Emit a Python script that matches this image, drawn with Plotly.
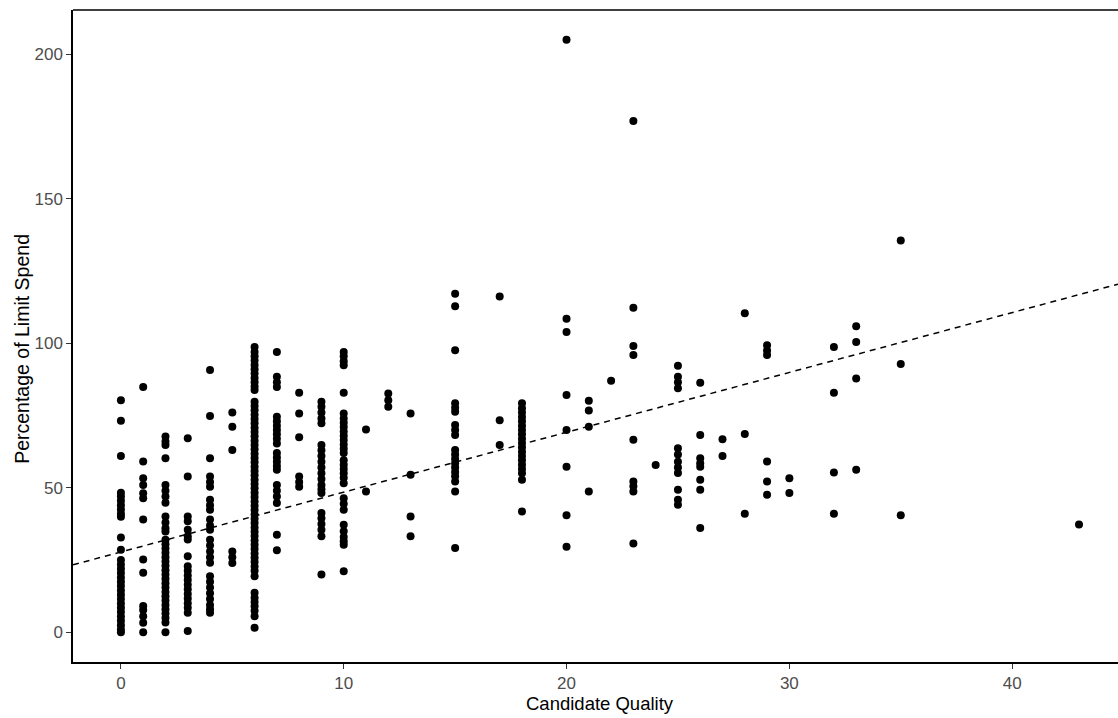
import plotly.graph_objects as go

# Percentage of limit spend, grouped by candidate quality score
spend_q0 = [80.3, 73.2, 61.0, 48.3, 47.0, 45.5, 44.0, 42.5, 41.0, 40.0, 32.8, 28.6,
            25.0, 23.5, 22.0, 20.5, 19.0, 17.5, 16.0, 14.5, 13.0, 11.5, 10.0, 8.5,
            7.0, 5.5, 4.0, 2.5, 1.0, 0.0]
spend_q1 = [84.9, 59.1, 53.3, 51.0, 48.1, 46.4, 39.0, 25.2, 20.6, 9.1, 7.7, 5.6, 3.3, 0.0]
spend_q2 = [67.7, 66.0, 64.8, 60.2, 51.0, 49.0, 47.0, 44.8, 40.1, 38.0, 36.0, 34.9,
            32.0, 30.5, 29.0, 27.5, 26.0, 24.5, 23.0, 21.5, 20.0, 18.5, 17.0, 15.5,
            14.0, 12.5, 11.0, 9.5, 8.0, 6.5, 5.0, 3.4, 0.0]
spend_q3 = [67.1, 53.9, 40.1, 38.4, 35.5, 33.2, 32.1, 26.3, 22.9, 21.3, 19.7, 18.1,
            16.5, 14.9, 13.3, 11.7, 10.1, 8.5, 6.8, 0.5]
spend_q4 = [90.7, 74.8, 60.2, 53.9, 52.0, 50.4, 45.9, 44.0, 42.4, 39.0, 37.0, 35.5,
            32.0, 30.0, 28.0, 26.0, 24.1, 19.4, 17.5, 15.5, 13.5, 11.5, 9.5, 8.0, 6.8]
spend_q5 = [76.0, 71.1, 63.1, 28.0, 26.0, 24.0]
spend_q6 = [98.7, 97.0, 95.5, 94.0, 92.5, 91.0, 89.5, 88.0, 86.5, 85.0, 83.8, 79.8,
            78.3, 76.8, 75.3, 73.8, 72.3, 70.8, 69.3, 67.8, 66.3, 64.8, 63.3, 61.8,
            60.3, 58.8, 57.3, 55.8, 54.3, 52.8, 51.3, 49.8, 48.3, 46.8, 45.3, 43.8,
            42.3, 40.8, 39.3, 37.8, 36.3, 34.8, 33.3, 31.8, 30.3, 28.8, 27.3, 25.8,
            24.3, 22.8, 21.3, 19.4, 13.7, 12.0, 10.5, 9.0, 7.5, 5.6, 1.6]
spend_q7 = [97.0, 88.4, 86.5, 84.9, 74.6, 73.0, 71.5, 70.0, 68.5, 67.0, 65.3, 62.0,
            60.5, 59.0, 57.5, 56.2, 51.0, 49.0, 47.0, 44.7, 33.8, 28.4]
spend_q8 = [82.9, 75.7, 67.5, 53.9, 52.0, 50.4]
spend_q9 = [79.8, 78.0, 76.0, 74.0, 72.3, 64.8, 63.0, 61.0, 59.0, 57.0, 55.0, 53.0,
            51.0, 49.5, 48.2, 41.3, 39.5, 37.5, 35.5, 33.2, 20.0]
spend_q10 = [97.0, 95.5, 93.8, 92.4, 82.9, 75.7, 74.0, 72.5, 71.0, 69.5, 68.0, 66.5,
             65.0, 63.5, 62.0, 59.5, 58.0, 56.5, 55.0, 53.5, 51.6, 46.4, 44.5, 42.4,
             37.2, 35.0, 33.0, 31.5, 30.3, 21.1]
spend_q11 = [70.2, 48.7]
spend_q12 = [82.6, 80.3, 78.0]
spend_q13 = [75.7, 54.5, 40.1, 33.2]
spend_q15 = [117.1, 112.8, 97.6, 79.2, 77.7, 76.3, 71.7, 70.0, 68.3, 63.1, 61.5, 60.0,
             58.5, 57.0, 55.5, 54.0, 52.2, 48.7, 29.2]
spend_q17 = [116.2, 73.4, 64.8]
spend_q18 = [79.2, 77.5, 76.0, 74.5, 73.0, 71.5, 70.0, 68.5, 67.0, 65.5, 64.0, 62.5,
             61.0, 59.5, 58.0, 56.5, 55.0, 52.8, 41.8]
spend_q20 = [205.0, 108.5, 103.9, 82.1, 70.0, 57.3, 40.5, 29.6]
spend_q21 = [80.1, 76.7, 71.1, 48.7]
spend_q22 = [87.0]
spend_q23 = [176.9, 112.3, 99.0, 95.9, 66.6, 52.2, 50.5, 48.7, 30.7]
spend_q24 = [57.9]
spend_q25 = [92.2, 88.4, 86.5, 84.4, 63.7, 61.5, 59.0, 57.0, 55.1, 49.3, 45.9, 44.1]
spend_q26 = [86.3, 68.3, 60.2, 58.5, 57.3, 52.8, 49.3, 36.1]
spend_q27 = [66.8, 61.0]
spend_q28 = [110.4, 68.6, 41.0]
spend_q29 = [99.3, 97.5, 95.9, 59.1, 52.2, 47.6]
spend_q30 = [53.3, 48.2]
spend_q32 = [98.7, 82.9, 55.3, 41.0]
spend_q33 = [105.9, 100.4, 87.8, 56.2]
spend_q35 = [135.5, 92.8, 40.5]
spend_q43 = [37.3]

groups = [
    (0, spend_q0), (1, spend_q1), (2, spend_q2), (3, spend_q3), (4, spend_q4),
    (5, spend_q5), (6, spend_q6), (7, spend_q7), (8, spend_q8), (9, spend_q9),
    (10, spend_q10), (11, spend_q11), (12, spend_q12), (13, spend_q13),
    (15, spend_q15), (17, spend_q17), (18, spend_q18), (20, spend_q20),
    (21, spend_q21), (22, spend_q22), (23, spend_q23), (24, spend_q24),
    (25, spend_q25), (26, spend_q26), (27, spend_q27), (28, spend_q28),
    (29, spend_q29), (30, spend_q30), (32, spend_q32), (33, spend_q33),
    (35, spend_q35), (43, spend_q43),
]

# Linear trend (intercept, slope)
fit_intercept = 27.8
fit_slope = 2.07

x_range = [-2.15, 44.75]
y_range = [-10.25, 215.25]

quality = []
spend = []
for q, vals in groups:
    quality.extend([q] * len(vals))
    spend.extend(vals)

fig = go.Figure()

fig.add_trace(go.Scatter(
    x=quality, y=spend, mode="markers",
    marker=dict(color="black", size=8, line=dict(width=0)),
    hoverinfo="x+y", showlegend=False,
))

trend_x = [x_range[0], x_range[1]]
trend_y = [fit_intercept + fit_slope * v for v in trend_x]
fig.add_trace(go.Scatter(
    x=trend_x, y=trend_y, mode="lines",
    line=dict(color="black", width=1.5, dash="6px,5px"),
    hoverinfo="skip", showlegend=False,
))

tick_font = dict(family="Liberation Sans, Arial, sans-serif", size=17, color="#4D4D4D")
title_font = dict(family="Liberation Sans, Arial, sans-serif", size=18.5, color="black")

fig.update_layout(
    width=1118, height=718,
    margin=dict(l=73, r=0, t=10, b=56),
    paper_bgcolor="white", plot_bgcolor="white",
    xaxis=dict(
        range=x_range, tickvals=[0, 10, 20, 30, 40],
        showgrid=False, zeroline=False,
        showline=True, linecolor="black", linewidth=1.5,
        ticks="outside", ticklen=5, tickwidth=1.2, tickcolor="#333333",
        tickfont=tick_font,
    ),
    yaxis=dict(
        range=y_range, tickvals=[0, 50, 100, 150, 200],
        showgrid=False, zeroline=False,
        showline=True, linecolor="black", linewidth=1.5,
        ticks="outside", ticklen=5, tickwidth=1.2, tickcolor="#333333",
        tickfont=tick_font,
    ),
    shapes=[dict(type="line", xref="paper", yref="paper", x0=0, x1=1, y0=1, y1=1,
                 line=dict(color="black", width=1.5))],
    annotations=[
        dict(text="Candidate Quality", xref="x", yref="paper",
             x=(x_range[0] + 45.15) / 2, y=-0.063, xanchor="center", yanchor="middle",
             showarrow=False, font=title_font),
        dict(text="Percentage of Limit Spend", xref="paper", yref="paper",
             x=-0.049, y=0.48, xanchor="center", yanchor="middle", textangle=-90,
             showarrow=False, font=dict(title_font, size=19.5)),
    ],
)

fig.write_html("out.html")
